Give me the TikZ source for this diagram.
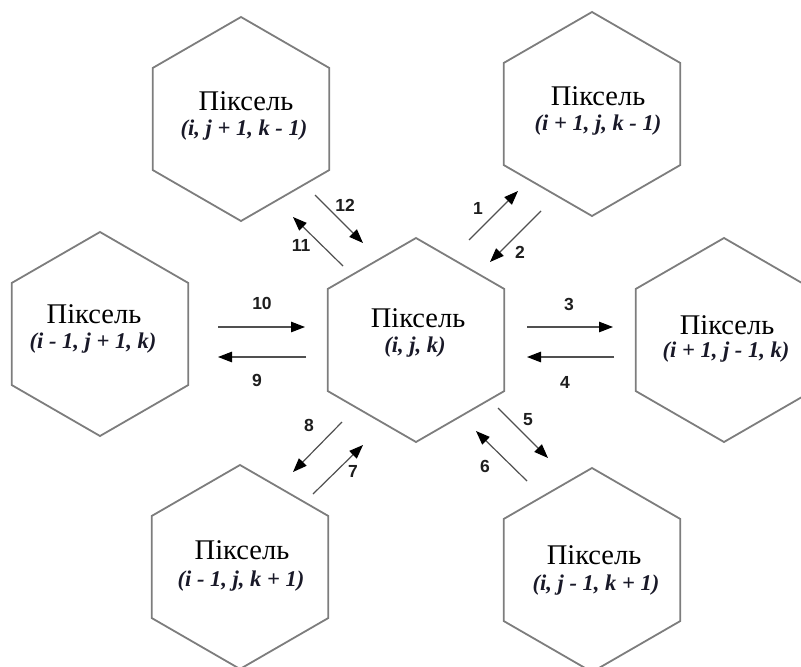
\documentclass[tikz,border=0pt]{standalone}
\usepackage{fontspec}
\setmainfont{Liberation Serif}
\newfontfamily\lblfont{Liberation Sans}
\usetikzlibrary{shapes.geometric,arrows.meta}
\tikzset{
  hexa/.style={regular polygon, regular polygon sides=6, shape border rotate=30,
    minimum size=204pt, inner sep=0pt, draw=hexgray, line width=1.8pt},
  ttl/.style={font=\fontsize{28.5}{28}\selectfont, inner sep=0pt},
  sub/.style={font=\fontsize{22.5}{22}\selectfont\bfseries\itshape, inner sep=0pt, text=subcol},
  arr/.style={draw=arrgray, line width=1.2pt, -{Triangle[length=14pt,width=10.5pt,color=black]}},
  num/.style={font=\lblfont\fontsize{17.5}{17}\selectfont\bfseries, inner sep=0pt, text=numcol}
}
\definecolor{hexgray}{RGB}{125,125,125}
\definecolor{arrgray}{RGB}{80,80,80}
\definecolor{subcol}{RGB}{25,25,40}
\definecolor{numcol}{RGB}{30,30,30}
\begin{document}
\begin{tikzpicture}[x=1pt,y=-1pt]
\path[use as bounding box] (0,0) rectangle (801,667);
% hexagons
\node[hexa] (TL) at (241,119) {};
\node[hexa] (TR) at (592,114) {};
\node[hexa] (L)  at (100,334) {};
\node[hexa] (C)  at (416,340) {};
\node[hexa] (R)  at (724,340) {};
\node[hexa] (BL) at (240,567) {};
\node[hexa] (BR) at (592,570) {};
% texts
\node[ttl] (tTL) at (246,101) {Піксель};
\node[sub] (sTL) at (244,130) {(i, j + 1, k - 1)};
\node[ttl] (tTR) at (598,96) {Піксель};
\node[sub] (sTR) at (598,125) {(i + 1, j, k - 1)};
\node[ttl] (tL) at (94,314) {Піксель};
\node[sub] (sL) at (93,343) {(i - 1, j + 1, k)};
\node[ttl] (tC) at (418,318) {Піксель};
\node[sub] (sC) at (415,347) {(i, j, k)};
\node[ttl] (tR) at (727,325) {Піксель};
\node[sub] (sR) at (726,352) {(i + 1, j - 1, k)};
\node[ttl] (tBL) at (242,550) {Піксель};
\node[sub] (sBL) at (241,581) {(i - 1, j, k + 1)};
\node[ttl] (tBR) at (594,555) {Піксель};
\node[sub] (sBR) at (596,585) {(i, j - 1, k + 1)};
% arrow end points
\coordinate (a1s) at (469,240);  \coordinate (a1e) at (518,191);
\coordinate (a2s) at (541,211);  \coordinate (a2e) at (490,262);
\coordinate (a3s) at (527,327);  \coordinate (a3e) at (613,327);
\coordinate (a4s) at (614,357);  \coordinate (a4e) at (527,357);
\coordinate (a5s) at (498,408);  \coordinate (a5e) at (548,458);
\coordinate (a6s) at (527,481);  \coordinate (a6e) at (476,431);
\coordinate (a7s) at (313,494);  \coordinate (a7e) at (363,445);
\coordinate (a8s) at (342,422);  \coordinate (a8e) at (293,472);
\coordinate (a9s) at (306,357);  \coordinate (a9e) at (218,357);
\coordinate (a10s) at (218,327); \coordinate (a10e) at (305,327);
\coordinate (a11s) at (343,266); \coordinate (a11e) at (293,217);
\coordinate (a12s) at (315,195); \coordinate (a12e) at (363,243);
\draw[arr] (a1s) -- (a1e);
\draw[arr] (a2s) -- (a2e);
\draw[arr] (a3s) -- (a3e);
\draw[arr] (a4s) -- (a4e);
\draw[arr] (a5s) -- (a5e);
\draw[arr] (a6s) -- (a6e);
\draw[arr] (a7s) -- (a7e);
\draw[arr] (a8s) -- (a8e);
\draw[arr] (a9s) -- (a9e);
\draw[arr] (a10s) -- (a10e);
\draw[arr] (a11s) -- (a11e);
\draw[arr] (a12s) -- (a12e);
% labels
\node[num] (n1) at (478,208) {1};
\node[num] (n2) at (520,252) {2};
\node[num] (n3) at (569,304) {3};
\node[num] (n4) at (565,382) {4};
\node[num] (n5) at (528,420) {5};
\node[num] (n6) at (485,466) {6};
\node[num] (n7) at (353,471) {7};
\node[num] (n8) at (309,425) {8};
\node[num] (n9) at (257,380) {9};
\node[num] (n10) at (262,303) {10};
\node[num] (n11) at (301,245) {11};
\node[num] (n12) at (345,205) {12};
\end{tikzpicture}
\end{document}
